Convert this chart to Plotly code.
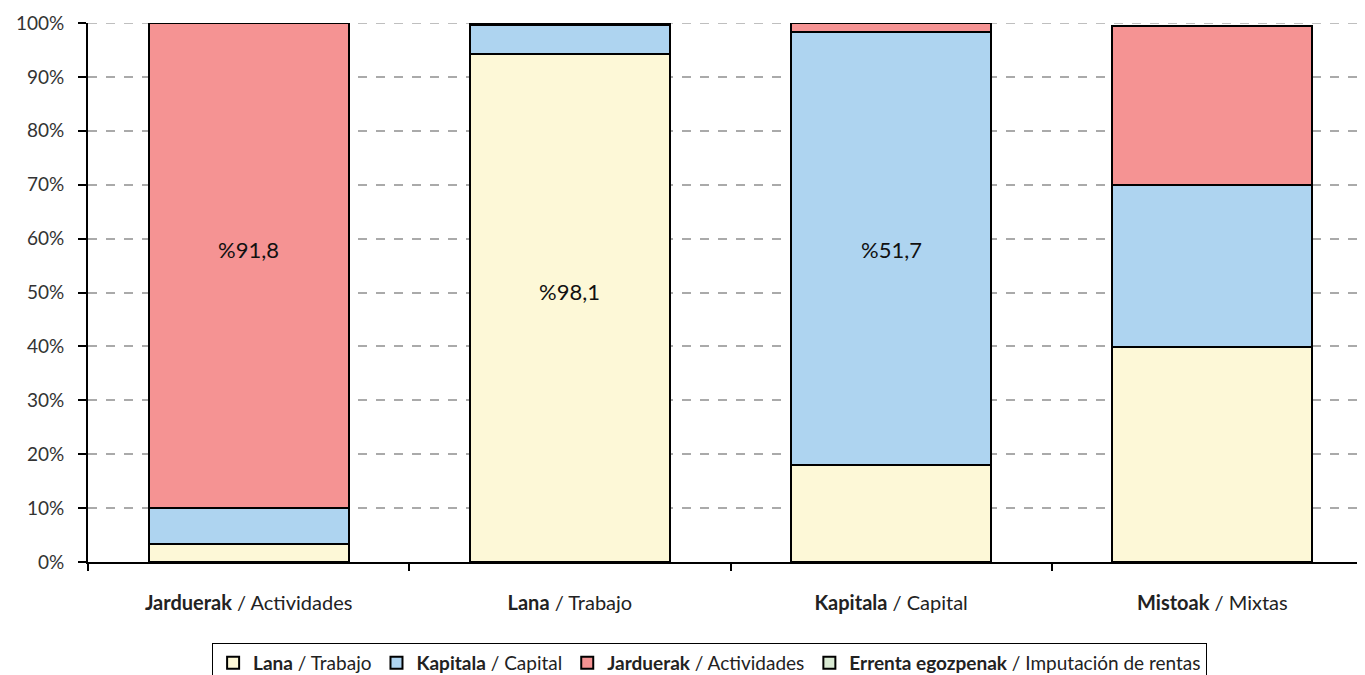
import plotly.graph_objects as go

categories = ["<b>Jarduerak</b> / Actividades", "<b>Lana</b> / Trabajo",
              "<b>Kapitala</b> / Capital", "<b>Mistoak</b> / Mixtas"]
lana = [3.3, 94.3, 18.0, 39.8]
kapitala = [6.7, 5.4, 80.4, 30.2]
jarduerak = [90.0, 0.15, 1.6, 29.5]
errenta = [None, 0.15, None, None]

series_names = ["<b>Lana</b> / Trabajo", "<b>Kapitala</b> / Capital",
                "<b>Jarduerak</b> / Actividades", "<b>Errenta egozpenak</b> / Imputación de rentas"]
series_colors = ["#FDF8D7", "#AED4F0", "#F59393", "#D9EAD3"]

label_text = ["%91,8", "%98,1", "%51,7"]
label_cat_idx = [0, 1, 2]
label_y = [58.0, 50.2, 58.0]

fig = go.Figure()
for vals, name, col in zip([lana, kapitala, jarduerak, errenta], series_names, series_colors):
    fig.add_trace(go.Bar(x=categories, y=vals, name=name,
                         marker=dict(color=col, line=dict(color="#000000", width=2))))

for t, ci, yv in zip(label_text, label_cat_idx, label_y):
    fig.add_annotation(x=categories[ci], y=yv, text=t, showarrow=False,
                       font=dict(size=22, color="#111111"))

# dashed gridline at the top of the range (plotly omits the edge gridline)
fig.add_shape(type="line", xref="paper", x0=0, x1=1, yref="y", y0=100, y1=100,
              line=dict(color="#AAAAAA", width=1.5, dash="dash"), layer="below")

fig.update_layout(
    width=1365, height=675,
    barmode="stack", bargap=0.377,
    plot_bgcolor="white", paper_bgcolor="white",
    font=dict(family="Lato", size=18, color="#222222"),
    margin=dict(l=80, r=0, t=15, b=121, autoexpand=False),
    showlegend=True,
    legend=dict(orientation="h", xref="container", yref="container",
                x=0.514, xanchor="center", y=0.0, yanchor="bottom",
                bordercolor="#000000", borderwidth=1, bgcolor="white",
                font=dict(size=19, color="#222222"), traceorder="normal",
                itemwidth=30, tracegroupgap=0),
)
fig.update_yaxes(range=[0, 100], dtick=10, ticksuffix="%", automargin=False,
                 showgrid=True, gridcolor="#AAAAAA", griddash="dash", gridwidth=1.5,
                 showline=True, linecolor="#000000", linewidth=2,
                 ticks="outside", ticklen=8, tickwidth=2, tickcolor="#000000",
                 ticklabelstandoff=10,
                 tickfont=dict(size=19, color="#333333"), zeroline=False)
fig.update_xaxes(showline=True, linecolor="#000000", linewidth=2, automargin=False,
                 ticks="outside", tickson="boundaries", ticklen=7, tickwidth=2,
                 ticklabelstandoff=22,
                 tickcolor="#000000", tickfont=dict(size=20, color="#222222"))

fig.write_html("out.html")
